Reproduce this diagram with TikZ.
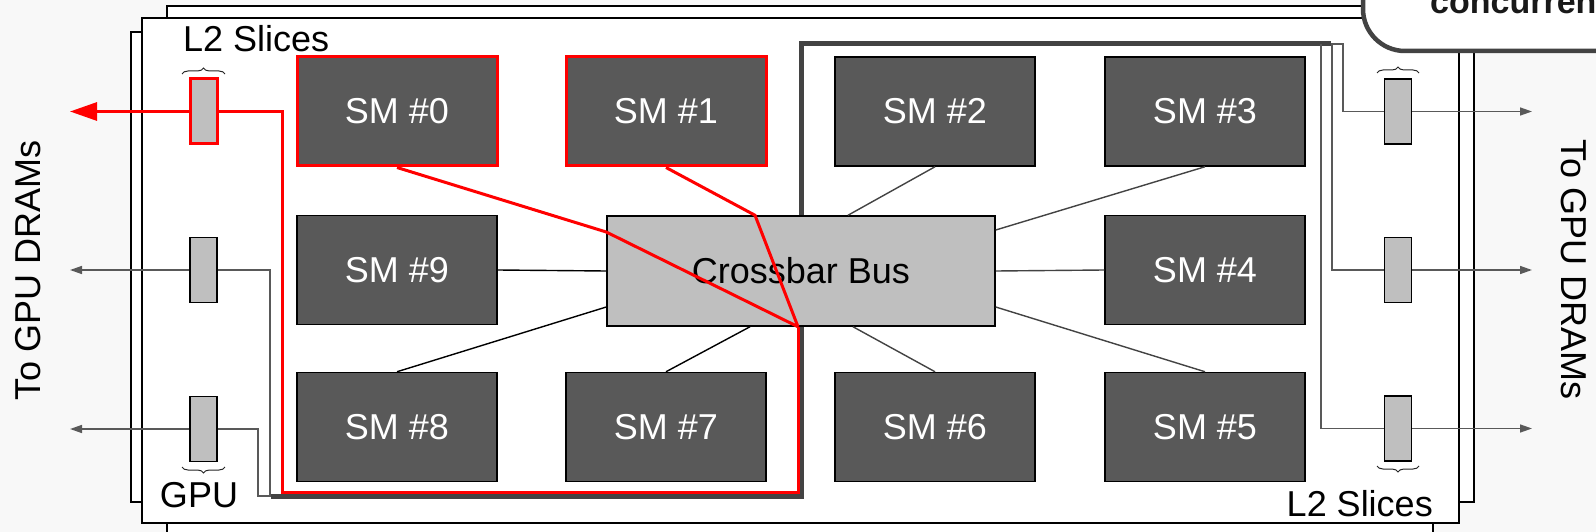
\documentclass[tikz,border=0pt]{standalone}
\usepackage{fontspec}
\setmainfont{Liberation Sans}
\usetikzlibrary{arrows.meta,decorations.pathreplacing,calc}
\definecolor{pagebg}{HTML}{F8F8F8}
\definecolor{smfill}{HTML}{595959}
\definecolor{lightbox}{HTML}{BFBFBF}
\definecolor{pathgray}{HTML}{434343}
\definecolor{wiregray}{HTML}{595959}
\definecolor{hot}{HTML}{FF0000}
\tikzset{
  card/.style={draw=black, line width=1.6pt, fill=white},
  smbox/.style={draw=black, line width=1.5pt, fill=smfill, text=white,
    minimum width=200pt, minimum height=109pt, inner sep=0pt,
    font=\fontsize{36}{40}\selectfont},
  hotsm/.style={smbox, draw=hot, line width=3pt},
  slice/.style={draw=black, line width=1.5pt, fill=lightbox,
    minimum width=27pt, minimum height=65pt, inner sep=0pt},
  hotslice/.style={slice, draw=hot, line width=3pt},
  bus/.style={draw=black, line width=1.5pt, fill=lightbox,
    minimum width=388pt, minimum height=110pt, inner sep=0pt,
    font=\fontsize{36}{40}\selectfont},
  link/.style={draw=black, line width=1.4pt},
  linkr/.style={draw=pathgray, line width=1.4pt},
  wire/.style={draw=wiregray, line width=1.5pt},
  outarrow/.style={wire, -{Triangle[length=12pt,width=8pt]}},
  hotpath/.style={draw=hot, line width=3pt},
  partition/.style={draw=pathgray, line width=5pt},
  lbl/.style={font=\fontsize{36}{40}\selectfont, inner sep=0pt},
  brc/.style={draw=black!85, line width=1pt, decorate,
    decoration={brace, amplitude=6pt}},
}
\begin{document}
\begin{tikzpicture}[x=1pt,y=-1pt]
\useasboundingbox (0,0) rectangle (1596,532);
\fill[pagebg] (0,0) rectangle (1596,532);

% stacked GPU cards
\draw[card] (167,6) rectangle (1433,570);
\draw[card] (131,32) rectangle (1474,502);
\draw[card] (142,18) rectangle (1459,523);

% partition outline
\coordinate (pR) at (1331,44);
\coordinate (pL) at (271,496);
\draw[partition] (pR) -- (801,44) -- (801,496) -- (pL);

% streaming multiprocessors
\node[hotsm] (sm0) at (397,111.5) {SM \#0};
\node[hotsm] (sm1) at (666,111.5) {SM \#1};
\node[smbox] (sm2) at (935,111.5) {SM \#2};
\node[smbox] (sm3) at (1205,111.5) {SM \#3};
\node[smbox] (sm9) at (397,270) {SM \#9};
\node[smbox] (sm4) at (1205,270) {SM \#4};
\node[smbox] (sm8) at (397,427) {SM \#8};
\node[smbox] (sm7) at (666,427) {SM \#7};
\node[smbox] (sm6) at (935,427) {SM \#6};
\node[smbox] (sm5) at (1205,427) {SM \#5};

% crossbar
\node[bus] (xbar) at (801,271) {Crossbar Bus};

% crossbar links
\draw[link] (sm9.east) -- (xbar.west);
\draw[link] (sm8.north) -- ([yshift=-36pt]xbar.west);
\draw[link] (sm7.north) -- ([xshift=-51pt]xbar.south);
\draw[linkr] (sm6.north) -- ([xshift=52pt]xbar.south);
\draw[linkr] (sm5.north) -- ([yshift=-36pt]xbar.east);
\draw[linkr] (sm4.west) -- (xbar.east);
\draw[linkr] (sm3.south) -- ([yshift=41pt]xbar.east);
\draw[linkr] (sm2.south) -- ([xshift=47pt]xbar.north);

% L2 slices
\node[hotslice] (l2a) at (203.5,111.5) {};
\node[slice] (l2b) at (203.5,270) {};
\node[slice] (l2c) at (203.5,429) {};
\node[slice] (r2a) at (1398,111.5) {};
\node[slice] (r2b) at (1398,270) {};
\node[slice] (r2c) at (1398,428.5) {};

% slice wiring
\coordinate (wL1) at (270,496);
\coordinate (wL2) at (258,496);
\coordinate (wR1) at (1343,44);
\coordinate (wR2) at (1332,44);
\coordinate (wR3) at (1321,44);
\draw[wire] (l2b.east) -| (wL1);
\draw[wire] (l2c.east) -| (wL2) -- (pL);
\draw[wire] (r2a.west) -| (wR1) -- (pR);
\draw[wire] (r2b.west) -| (wR2);
\draw[wire] (r2c.west) -| (wR3);

% highlighted route
\coordinate (hub) at ([xshift=-3pt]xbar.south);
\coordinate (hotcorner) at (282,492);
\draw[hotpath] (sm0.south) -- ([yshift=39pt]xbar.west) -- (hub);
\draw[hotpath] (sm1.south) -- ([xshift=-46pt]xbar.north) -- (hub);
\draw[hotpath] (hub) |- (hotcorner) |- (l2a.east);

% DRAM links
\coordinate (dl1) at (70,111.5);
\coordinate (dl2) at (70,270);
\coordinate (dl3) at (70,429);
\coordinate (dr1) at (1532,111.5);
\coordinate (dr2) at (1532,270);
\coordinate (dr3) at (1532,428.5);
\draw[hotpath, -{Triangle[length=27pt,width=18pt]}] (l2a.west) -- (dl1);
\draw[outarrow] (l2b.west) -- (dl2);
\draw[outarrow] (l2c.west) -- (dl3);
\draw[outarrow] (r2a.east) -- (dr1);
\draw[outarrow] (r2b.east) -- (dr2);
\draw[outarrow] (r2c.east) -- (dr3);

% braces
\draw[brc] (182,74) -- (225,74);
\draw[brc] (225,467) -- (182,467);
\draw[brc] (1377,73) -- (1419,73);
\draw[brc] (1419,466) -- (1377,466);

% labels
\node[lbl, anchor=base west] (l2top) at (183,52) {L2 Slices};
\node[lbl, anchor=base east] (l2bot) at (1433,516) {L2 Slices};
\node[lbl, anchor=base] (gpulbl) at (199,507) {GPU};
\node[lbl, rotate=90] (dramL) at (28,270) {To GPU DRAMs};
\node[lbl, rotate=-90] (dramR) at (1574,270) {To GPU DRAMs};

% note box
\draw[pathgray, line width=4.5pt, fill=white, rounded corners=42pt]
  (1363,-90) rectangle (1720,51);
\node[font=\bfseries\fontsize{34}{40}\selectfont, anchor=base west,
  inner sep=0pt, text=black!90] (note) at (1430,14) {concurren};
\end{tikzpicture}
\end{document}
